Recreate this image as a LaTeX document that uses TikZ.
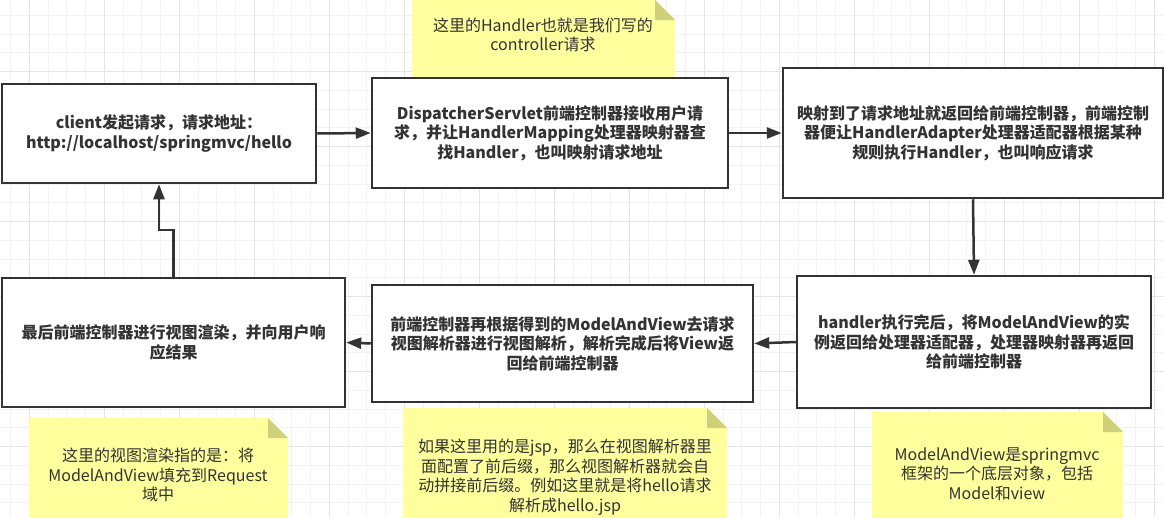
\documentclass[tikz,border=0pt]{standalone}
\usepackage{fontspec}
\setmainfont{Noto Sans CJK SC}
\usetikzlibrary{arrows.meta}
\definecolor{ink}{RGB}{51,51,51}
\definecolor{gridminor}{RGB}{242,242,242}
\definecolor{gridmajor}{RGB}{228,228,228}
\definecolor{notebg}{RGB}{255,255,158}
\definecolor{notefold}{RGB}{207,207,124}
\begin{document}
\begin{tikzpicture}[x=1pt,y=-1pt,
    procbox/.style={draw=ink,line width=2.5pt,fill=white,align=center,text=ink,
      inner sep=0pt,font=\bfseries\fontsize{16}{19.5}\selectfont},
    memo/.style={align=center,text=ink,inner sep=0pt,font=\fontsize{16}{19.5}\selectfont},
    flow/.style={draw=ink,line width=2.5pt,-{Triangle[length=15pt,width=11pt]}}]
    \useasboundingbox[fill=white] (0,0) rectangle (1164,517);
    %% grid
    \foreach \i in {0,...,62} {
        \draw[gridminor,line width=1pt] ({10.55+18.75*\i},0) -- ++(0,517);
    }
    \foreach \i in {0,...,28} {
        \draw[gridminor,line width=1pt] (0,{-3.3+18.75*\i}) -- ++(1164,0);
    }
    \foreach \i in {0,...,15} {
        \draw[gridmajor,line width=1pt] ({29.3+75*\i},0) -- ++(0,517);
    }
    \foreach \i in {0,...,6} {
        \draw[gridmajor,line width=1pt] (0,{71.7+75*\i}) -- ++(1164,0);
    }
    %% notes
    \foreach \xa/\ya/\xb/\yb in {412/0/675/80, 29/418/288/520, 403/408/727/520, 872/412/1123/520} {
        \fill[notebg] (\xa,\ya) -- ({\xb-20},\ya) -- (\xb,{\ya+20}) -- (\xb,\yb) -- (\xa,\yb) -- cycle;
        \fill[notefold] ({\xb-20},\ya) -- (\xb,{\ya+20}) -- ({\xb-20},{\ya+20}) -- cycle;
    }
    \node[memo] (handlernote) at (543,35) {这里的Handler也就是我们写的\\controller请求};
    \node[memo] (rendernote) at (158,475) {这里的视图渲染指的是：将\\ModelAndView填充到Request\\域中};
    \node[memo] (jspnote) at (565,477) {如果这里用的是jsp，那么在视图解析器里\\面配置了前后缀，那么视图解析器就会自\\动拼接前后缀。例如这里就是将hello请求\\解析成hello.jsp};
    \node[memo] (mavnote) at (997,474) {ModelAndView是springmvc\\框架的一个底层对象，包括\\Model和view};
    %% steps
    \node[procbox,minimum width=314pt,minimum height=99pt] (client) at (159,133.5)
        {client发起请求，请求地址：\\http://localhost/springmvc/hello};
    \node[procbox,minimum width=356pt,minimum height=110pt] (dispatch) at (550,133)
        {DispatcherServlet前端控制器接收用户请\\求，并让HandlerMapping处理器映射器查\\找Handler，也叫映射请求地址};
    \node[procbox,minimum width=380pt,minimum height=130pt] (adapter) at (973,133)
        {映射到了请求地址就返回给前端控制器，前端控制\\器便让HandlerAdapter处理器适配器根据某种\\规则执行Handler，也叫响应请求};
    \node[procbox,minimum width=354pt,minimum height=132pt] (handler) at (974,342)
        {handler执行完后，将ModelAndView的实\\例返回给处理器适配器，处理器映射器再返回\\给前端控制器};
    \node[procbox,minimum width=381pt,minimum height=117pt] (resolve) at (562.5,343.5)
        {前端控制器再根据得到的ModelAndView去请求\\视图解析器进行视图解析，解析完成后将View返\\回给前端控制器};
    \node[procbox,minimum width=343pt,minimum height=129pt] (render) at (173.5,342.5)
        {最后前端控制器进行视图渲染，并向用户响\\应结果};
    %% arrows
    \draw[flow] (client.east) -- (dispatch.west);
    \draw[flow] (dispatch.east) -- (adapter.west);
    \draw[flow] (adapter.south) -- (handler.north);
    \draw[flow] (handler.west) -- (resolve.east);
    \draw[flow] (resolve.west) -- (render.east);
    \draw[flow] (render.north) -- ++(0,-47) -| (client.south);
\end{tikzpicture}
\end{document}
